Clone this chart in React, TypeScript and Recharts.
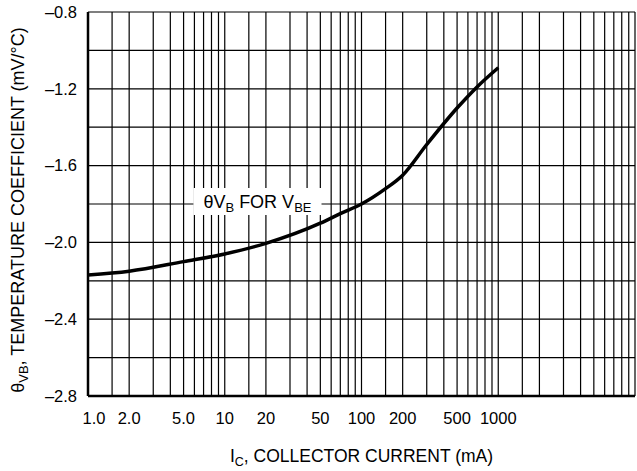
import React from "react";
import {
  LineChart,
  Line,
  XAxis,
  YAxis,
  CartesianGrid,
  ReferenceArea,
  ReferenceLine,
} from "recharts";

// collector current (mA) and temperature coefficient (mV/°C)
const currentMa = [1, 2, 5, 10, 20, 50, 70, 100, 150, 200, 300, 500, 700, 1000];
const tempCoeff = [
  -2.17, -2.15, -2.1, -2.06, -2.005, -1.9, -1.85, -1.8, -1.72, -1.65, -1.49,
  -1.3, -1.19, -1.09,
];

const xTicks = [1, 2, 5, 10, 20, 50, 100, 200, 500, 1000];
const yTicks = [-2.8, -2.4, -2.0, -1.6, -1.2, -0.8];

// log paper grid
const gridX = [
  1.5, 2, 3, 4, 5, 6, 7, 8, 9,
  10, 15, 20, 30, 40, 50, 60, 70, 80, 90,
  100, 150, 200, 300, 400, 500, 600, 700, 800, 900,
  1000, 1500, 2000, 3000, 4000, 5000, 6000, 7000, 8000, 9000,
  10000,
];
const gridY = [-2.8, -2.6, -2.4, -2.2, -2.0, -1.8, -1.6, -1.4, -1.2, -1.0, -0.8];

// white box behind the curve label
const labelBoxX = [5.9, 51];
const labelBoxY = [-1.857, -1.717];

const FONT = '"Liberation Sans", Arial, Helvetica, sans-serif';

const data = currentMa.map((ic, i) => ({ ic, theta: tempCoeff[i] }));

const fmtX = (v: number) => (v < 10 ? v.toFixed(1) : String(v));
const fmtY = (v: number) => "\u2013" + Math.abs(v).toFixed(1);

const XTick = (props: any) => {
  const { x, y, payload, index } = props;
  return (
    <text
      x={x + (index === 0 ? 6 : 0)}
      y={y}
      dy="0.71em"
      textAnchor="middle"
      fontFamily={FONT}
      fontSize={16.5}
      fill="#000"
    >
      {fmtX(payload.value)}
    </text>
  );
};

const YTick = (props: any) => {
  const { x, y, payload } = props;
  return (
    <text
      x={x}
      y={y}
      dy="0.355em"
      textAnchor="end"
      fontFamily={FONT}
      fontSize={16.5}
      fill="#000"
    >
      {fmtY(payload.value)}
    </text>
  );
};

const XTitle = (props: any) => {
  const vb = props.viewBox || {};
  const cx = vb.x + vb.width / 2;
  return (
    <text x={cx} y={462} textAnchor="middle" fontFamily={FONT} fontSize={17.5} fill="#000">
      I
      <tspan dy={4} fontSize={12.5}>C</tspan>
      <tspan dy={-4}>, COLLECTOR CURRENT (mA)</tspan>
    </text>
  );
};

const YTitle = () => {
  const cx = 24;
  const cy = 210;
  return (
    <text
      x={cx}
      y={cy}
      textAnchor="middle"
      transform={`rotate(-90, ${cx}, ${cy})`}
      fontFamily={FONT}
      fontSize={18}
      fill="#000"
    >
      {"\u03b8"}
      <tspan dy={4} fontSize={13}>VB</tspan>
      <tspan dy={-4}>, TEMPERATURE COEFFICIENT (mV/°C)</tspan>
    </text>
  );
};

const BoxLabel = (props: any) => {
  const vb = props.viewBox || {};
  const cx = vb.x + vb.width / 2;
  const cy = vb.y + vb.height / 2;
  return (
    <text
      x={cx}
      y={cy + 6}
      textAnchor="middle"
      fontFamily={FONT}
      fontSize={18}
      fill="#000"
    >
      {"\u03b8V"}
      <tspan dy={4} fontSize={13}>B</tspan>
      <tspan dy={-4}> FOR V</tspan>
      <tspan dy={4} fontSize={13}>BE</tspan>
    </text>
  );
};

export default function App() {
  return (
    <>
      <style>{"body{margin:0}"}</style>
      <LineChart
        width={637}
        height={471}
        data={data}
        margin={{ top: 12, right: 2, bottom: 0, left: 0 }}
      >
        <CartesianGrid
          stroke="#000"
          strokeWidth={1.2}
          vertical={false}
          horizontalValues={gridY}
        />
        {gridX.map((v) => (
          <ReferenceLine
            key={v}
            x={v}
            stroke="#000"
            strokeWidth={1.2}
            zIndex={-90}
          />
        ))}
        <XAxis
          dataKey="ic"
          type="number"
          scale="log"
          domain={[1, 10000]}
          ticks={xTicks}
          allowDataOverflow
          height={75}
          tickSize={0}
          tickLine={false}
          tickMargin={16}
          axisLine={{ stroke: "#000", strokeWidth: 2.5 }}
          tick={<XTick />}
          label={<XTitle />}
        />
        <YAxis
          type="number"
          domain={[-2.8, -0.8]}
          ticks={yTicks}
          allowDataOverflow
          width={88}
          tickSize={0}
          tickLine={false}
          tickMargin={11}
          axisLine={{ stroke: "#000", strokeWidth: 2.5 }}
          tick={<YTick />}
          label={<YTitle />}
        />
        <ReferenceArea
          x1={labelBoxX[0]}
          x2={labelBoxX[1]}
          y1={labelBoxY[0]}
          y2={labelBoxY[1]}
          fill="#fff"
          fillOpacity={1}
          stroke="none"
          label={<BoxLabel />}
        />
        <Line
          dataKey="theta"
          type="monotone"
          stroke="#000"
          strokeWidth={3.5}
          dot={false}
          activeDot={false}
          isAnimationActive={false}
        />
      </LineChart>
    </>
  );
}
